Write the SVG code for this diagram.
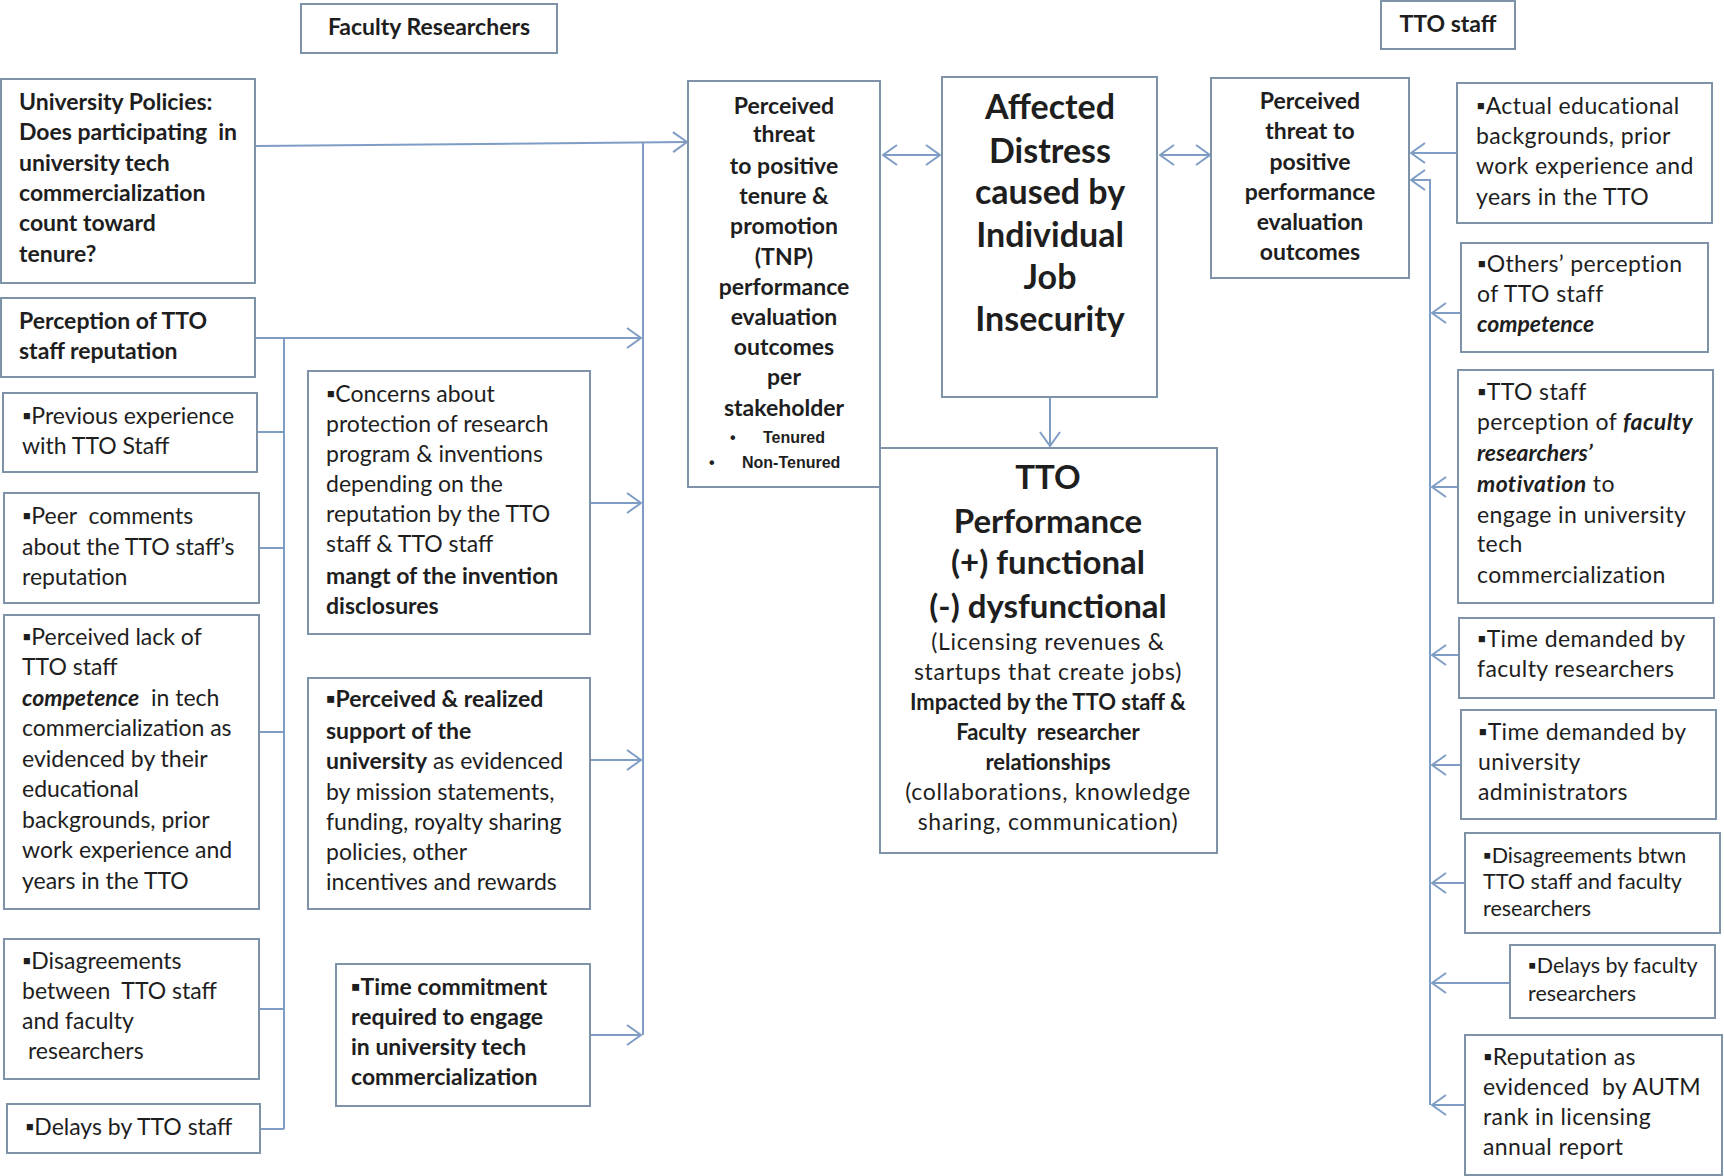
<svg xmlns="http://www.w3.org/2000/svg" width="1724" height="1176" viewBox="0 0 1724 1176" xml:space="preserve">
<style>
.box{fill:#fff;stroke:#7f93a8;stroke-width:2}
.t{font-family:Lato,"Open Sans","Liberation Sans",sans-serif;font-size:23px;fill:#1e1e1e;white-space:pre}
.b{font-weight:bold}
.bi{font-weight:bold;font-style:italic}
.c{text-anchor:middle}
.r{letter-spacing:0.4px}
.big{font-size:34px;font-weight:bold}
.mid{font-size:33px;font-weight:bold}
.sm{font-size:23px;letter-spacing:0.7px}
.smb{font-size:22px;font-weight:bold}
.xs{font-size:21.5px}
.tn{font-family:"Liberation Sans",Arial,sans-serif;font-size:16px;font-weight:bold;fill:#1e1e1e}
.conn{stroke:#7f9dc4;stroke-width:2;fill:none}
.arr{marker-end:url(#ah)}
.dbl{marker-end:url(#ah);marker-start:url(#ah)}
</style>
<defs>
<marker id="ah" viewBox="0 0 16 22" refX="15" refY="11" markerWidth="16" markerHeight="22" markerUnits="userSpaceOnUse" orient="auto-start-reverse">
<path d="M1,1 L15,11 L1,21" fill="none" stroke="#7f9dc4" stroke-width="2"/>
</marker>
</defs>
<rect width="1724" height="1176" fill="#fff"/>

<g id="faculty-researchers">
<rect class="box" x="301" y="4" width="256" height="49"/>
<text class="t b c" x="429" y="35">Faculty Researchers</text>
</g>
<g id="tto-staff-label">
<rect class="box" x="1381" y="1" width="134" height="48"/>
<text class="t b c" x="1448" y="32">TTO staff</text>
</g>

<g id="connectors">
<path class="conn arr" d="M256,146 L687,142"/>
<path class="conn" d="M643,142 L643,1035"/>
<path class="conn arr" d="M256,338 L641,338"/>
<path class="conn" d="M284,338 L284,1129"/>
<path class="conn" d="M257,432 H284 M259,548 H284 M259,732 H284 M259,1009 H284 M260,1129 H284"/>
<path class="conn arr" d="M590,503 L641,503"/>
<path class="conn arr" d="M590,760 L641,760"/>
<path class="conn arr" d="M590,1035 L641,1035"/>
<path class="conn dbl" d="M883,155 L940,155"/>
<path class="conn dbl" d="M1160,155 L1210,155"/>
<path class="conn arr" d="M1050,397 L1050,446"/>
<path class="conn arr" d="M1457,153 L1411,153"/>
<path class="conn arr" d="M1430,1105 L1430,180 L1411,180"/>
<path class="conn arr" d="M1461,313 L1432,313"/>
<path class="conn arr" d="M1458,487 L1432,487"/>
<path class="conn arr" d="M1459,655 L1432,655"/>
<path class="conn arr" d="M1461,765 L1432,765"/>
<path class="conn arr" d="M1465,883 L1432,883"/>
<path class="conn arr" d="M1510,983 L1432,983"/>
<path class="conn arr" d="M1465,1105 L1432,1105"/>
</g>

<g id="university-policies">
<rect class="box" x="1" y="79" width="254" height="204"/>
<text class="t b" x="19" y="110">University Policies:</text>
<text class="t b" x="19" y="140">Does participating  in</text>
<text class="t b" x="19" y="171">university tech</text>
<text class="t b" x="19" y="201">commercialization</text>
<text class="t b" x="19" y="231">count toward</text>
<text class="t b" x="19" y="262">tenure?</text>
</g>
<g id="perception-reputation">
<rect class="box" x="1" y="298" width="254" height="79"/>
<text class="t b" x="19" y="329">Perception of TTO</text>
<text class="t b" x="19" y="359">staff reputation</text>
</g>
<g id="previous-experience">
<rect class="box" x="3" y="393" width="254" height="79"/>
<text class="t" x="22" y="424">▪Previous experience</text>
<text class="t" x="22" y="454">with TTO Staff</text>
</g>
<g id="peer-comments">
<rect class="box" x="4" y="493" width="255" height="110"/>
<text class="t" x="22" y="524">▪Peer  comments</text>
<text class="t" x="22" y="555">about the TTO staff’s</text>
<text class="t" x="22" y="585">reputation</text>
</g>
<g id="perceived-lack">
<rect class="box" x="4" y="615" width="255" height="294"/>
<text class="t" x="22" y="645">▪Perceived lack of</text>
<text class="t" x="22" y="675">TTO staff</text>
<text class="t" x="22" y="706"><tspan class="bi">competence</tspan>  in tech</text>
<text class="t" x="22" y="736">commercialization as</text>
<text class="t" x="22" y="767">evidenced by their</text>
<text class="t" x="22" y="797">educational</text>
<text class="t" x="22" y="828">backgrounds, prior</text>
<text class="t" x="22" y="858">work experience and</text>
<text class="t" x="22" y="889">years in the TTO</text>
</g>
<g id="disagreements-left">
<rect class="box" x="4" y="939" width="255" height="140"/>
<text class="t" x="22" y="969">▪Disagreements</text>
<text class="t" x="22" y="999">between  TTO staff</text>
<text class="t" x="22" y="1029">and faculty</text>
<text class="t" x="22" y="1059"> researchers</text>
</g>
<g id="delays-tto">
<rect class="box" x="7" y="1104" width="253" height="49"/>
<text class="t" x="25" y="1135">▪Delays by TTO staff</text>
</g>

<g id="concerns">
<rect class="box" x="308" y="371" width="282" height="263"/>
<text class="t" x="326" y="402">▪Concerns about</text>
<text class="t" x="326" y="432">protection of research</text>
<text class="t" x="326" y="462">program &amp; inventions</text>
<text class="t" x="326" y="492">depending on the</text>
<text class="t" x="326" y="522">reputation by the TTO</text>
<text class="t" x="326" y="552">staff &amp; TTO staff</text>
<text class="t b" x="326" y="584">mangt of the invention</text>
<text class="t b" x="326" y="614">disclosures</text>
</g>
<g id="perceived-support">
<rect class="box" x="308" y="678" width="282" height="231"/>
<text class="t b" x="326" y="707">▪Perceived &amp; realized</text>
<text class="t b" x="326" y="739">support of the</text>
<text class="t" x="326" y="769"><tspan class="b">university</tspan> as evidenced</text>
<text class="t" x="326" y="800">by mission statements,</text>
<text class="t" x="326" y="830">funding, royalty sharing</text>
<text class="t" x="326" y="860">policies, other</text>
<text class="t" x="326" y="890">incentives and rewards</text>
</g>
<g id="time-commitment">
<rect class="box" x="336" y="964" width="254" height="142"/>
<text class="t b" x="351" y="995">▪Time commitment</text>
<text class="t b" x="351" y="1025">required to engage</text>
<text class="t b" x="351" y="1055">in university tech</text>
<text class="t b" x="351" y="1085">commercialization</text>
</g>

<g id="tnp-threat">
<rect class="box" x="688" y="81" width="192" height="406"/>
<text class="t b c" x="784" y="114">Perceived</text>
<text class="t b c" x="784" y="142">threat</text>
<text class="t b c" x="784" y="174">to positive</text>
<text class="t b c" x="784" y="204">tenure &amp;</text>
<text class="t b c" x="784" y="234">promotion</text>
<text class="t b c" x="784" y="265">(TNP)</text>
<text class="t b c" x="784" y="295">performance</text>
<text class="t b c" x="784" y="325">evaluation</text>
<text class="t b c" x="784" y="355">outcomes</text>
<text class="t b c" x="784" y="385">per</text>
<text class="t b c" x="784" y="416">stakeholder</text>
<text class="tn" x="730" y="443">•</text>
<text class="tn" x="763" y="443">Tenured</text>
<text class="tn" x="709" y="468">•</text>
<text class="tn" x="742" y="468">Non-Tenured</text>
</g>

<g id="affected-distress">
<rect class="box" x="942" y="77" width="215" height="320"/>
<text class="t big c" x="1050" y="119">Affected</text>
<text class="t big c" x="1050" y="163">Distress</text>
<text class="t big c" x="1050" y="204">caused by</text>
<text class="t big c" x="1050" y="247">Individual</text>
<text class="t big c" x="1050" y="289">Job</text>
<text class="t big c" x="1050" y="331">Insecurity</text>
</g>

<g id="tto-performance">
<rect class="box" x="880" y="448" width="337" height="405"/>
<text class="t mid c" x="1048" y="489">TTO</text>
<text class="t mid c" x="1048" y="533">Performance</text>
<text class="t mid c" x="1048" y="574">(+) functional</text>
<text class="t mid c" x="1048" y="618">(-) dysfunctional</text>
<text class="t sm c" x="1048" y="650">(Licensing revenues &amp;</text>
<text class="t sm c" x="1048" y="680">startups that create jobs)</text>
<text class="t smb c" x="1048" y="710">Impacted by the TTO staff &amp;</text>
<text class="t smb c" x="1048" y="740">Faculty  researcher</text>
<text class="t smb c" x="1048" y="770">relationships</text>
<text class="t sm c" x="1048" y="800">(collaborations, knowledge</text>
<text class="t sm c" x="1048" y="830">sharing, communication)</text>
</g>

<g id="tto-threat">
<rect class="box" x="1211" y="78" width="198" height="200"/>
<text class="t b c" x="1310" y="109">Perceived</text>
<text class="t b c" x="1310" y="139">threat to</text>
<text class="t b c" x="1310" y="170">positive</text>
<text class="t b c" x="1310" y="200">performance</text>
<text class="t b c" x="1310" y="230">evaluation</text>
<text class="t b c" x="1310" y="260">outcomes</text>
</g>

<g id="actual-educational">
<rect class="box" x="1457" y="83" width="255" height="140"/>
<text class="t r" x="1476" y="114">▪Actual educational</text>
<text class="t r" x="1476" y="144">backgrounds, prior</text>
<text class="t r" x="1476" y="174">work experience and</text>
<text class="t r" x="1476" y="205">years in the TTO</text>
</g>
<g id="others-perception">
<rect class="box" x="1461" y="243" width="247" height="109"/>
<text class="t r" x="1477" y="272">▪Others’ perception</text>
<text class="t r" x="1477" y="302">of TTO staff</text>
<text class="t bi" x="1477" y="332">competence</text>
</g>
<g id="tto-perception-motivation">
<rect class="box" x="1458" y="370" width="255" height="233"/>
<text class="t r" x="1477" y="400">▪TTO staff</text>
<text class="t r" x="1477" y="430">perception of <tspan class="bi">faculty</tspan></text>
<text class="t bi" x="1477" y="461">researchers’</text>
<text class="t r" x="1477" y="492"><tspan class="bi">motivation</tspan> to</text>
<text class="t r" x="1477" y="523">engage in university</text>
<text class="t r" x="1477" y="552">tech</text>
<text class="t r" x="1477" y="583">commercialization</text>
</g>
<g id="time-faculty">
<rect class="box" x="1459" y="618" width="255" height="80"/>
<text class="t r" x="1477" y="647">▪Time demanded by</text>
<text class="t r" x="1477" y="677">faculty researchers</text>
</g>
<g id="time-administrators">
<rect class="box" x="1461" y="710" width="255" height="109"/>
<text class="t r" x="1478" y="740">▪Time demanded by</text>
<text class="t r" x="1478" y="770">university</text>
<text class="t r" x="1478" y="800">administrators</text>
</g>
<g id="disagreements-right">
<rect class="box" x="1465" y="833" width="255" height="100"/>
<text class="t xs" x="1483" y="863">▪Disagreements btwn</text>
<text class="t xs" x="1483" y="889">TTO staff and faculty</text>
<text class="t xs" x="1483" y="916">researchers</text>
</g>
<g id="delays-faculty">
<rect class="box" x="1510" y="945" width="205" height="73"/>
<text class="t xs" x="1528" y="973">▪Delays by faculty</text>
<text class="t xs" x="1528" y="1001">researchers</text>
</g>
<g id="reputation-autm">
<rect class="box" x="1465" y="1035" width="257" height="140"/>
<text class="t r" x="1483" y="1065">▪Reputation as</text>
<text class="t r" x="1483" y="1095">evidenced  by AUTM</text>
<text class="t r" x="1483" y="1125">rank in licensing</text>
<text class="t r" x="1483" y="1155">annual report</text>
</g>
</svg>
